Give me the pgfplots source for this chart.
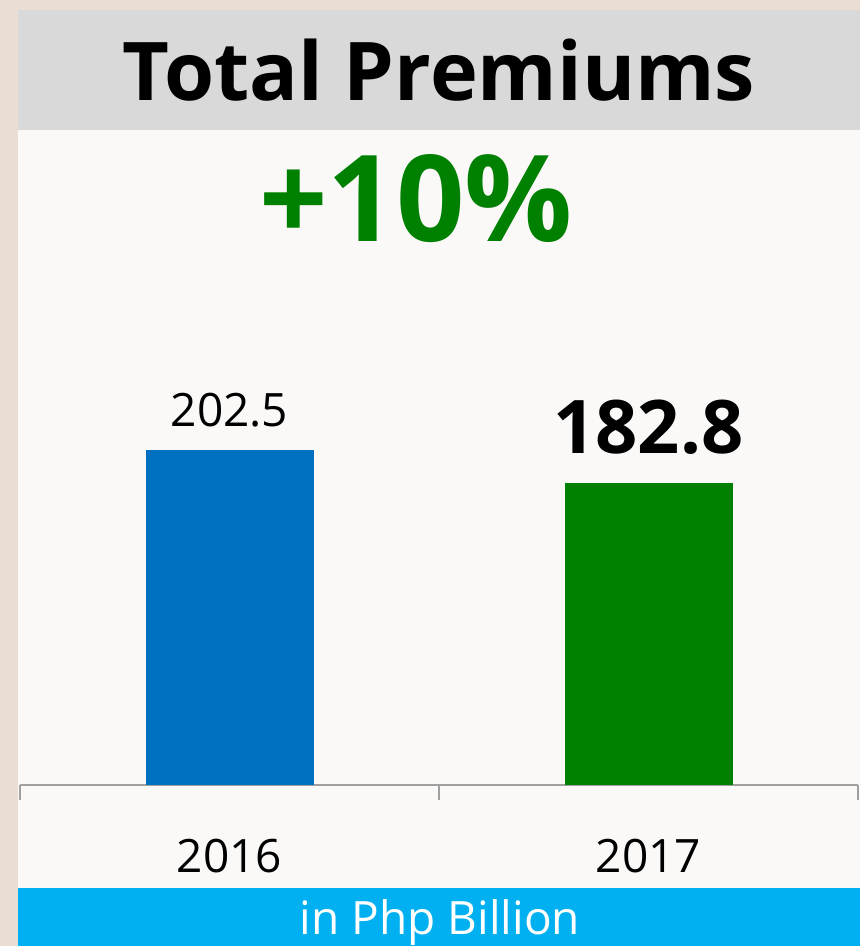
\documentclass[border=0pt]{standalone}
\usepackage{pgfplots}
\pgfplotsset{compat=1.18}
\usepackage{fontspec}
\setmainfont{Open Sans}
\definecolor{bgl}{HTML}{EADDD4}
\definecolor{panel}{HTML}{FAF9F8}
\definecolor{hdr}{HTML}{D9D9D9}
\definecolor{barblue}{HTML}{0070C0}
\definecolor{bargreen}{HTML}{008000}
\definecolor{band}{HTML}{00B0F0}
\definecolor{axgray}{HTML}{A0A0A0}
\begin{document}
\begin{tikzpicture}
\useasboundingbox (0pt,0pt) rectangle (860pt,946pt);
\fill[bgl] (0pt,0pt) rectangle (860pt,946pt);
\fill[panel] (18pt,0pt) rectangle (860pt,936pt);
\fill[hdr] (18pt,816pt) rectangle (860pt,936pt);
\fill[band] (18pt,0pt) rectangle (860pt,58pt);
\node[anchor=base, inner sep=0pt, font=\fontsize{81}{86}\selectfont\bfseries] at (439pt,845pt) {Total Premiums};
\node[anchor=base, inner sep=0pt, text=bargreen, font=\fontsize{120}{124}\selectfont\bfseries] at (416pt,704pt) {+10\%};
\node[anchor=base, inner sep=0pt, text=white, font=\fontsize{46}{50}\selectfont] at (440pt,12pt) {in Php Billion};
\begin{axis}[
  at={(20pt,161pt)}, anchor=south west,
  scale only axis, width=838pt, height=655pt,
  xmin=-0.5, xmax=1.5, ymin=0, ymax=396,
  axis y line=none,
  axis x line*=bottom,
  x axis line style={axgray, line width=1.5pt, -},
  ybar, bar width=168pt,
  xtick={0,1}, xticklabels={2016,2017},
  major x tick style={draw=none},
  xticklabel style={anchor=base, yshift=-83pt, font=\fontsize{46}{50}\selectfont},
  extra x ticks={-0.5,0.5,1.5},
  extra x tick labels={},
  extra x tick style={tick align=outside, major tick length=15pt, major x tick style={draw=axgray, line width=1.5pt}},
  /pgf/number format/assume math mode=true,
  /pgf/number format/fixed, /pgf/number format/precision=1,
  clip=false,
]
\addplot[fill=barblue, draw=none, bar shift=0pt, nodes near coords,
  nodes near coords style={anchor=base, yshift=24pt, font=\fontsize{46}{50}\selectfont, text=black}]
  coordinates {(0,202.5)};
\addplot[fill=bargreen, draw=none, bar shift=0pt, nodes near coords,
  nodes near coords style={anchor=base, yshift=29pt, font=\fontsize{74}{78}\selectfont\bfseries, text=black}]
  coordinates {(1,182.8)};
\end{axis}
\end{tikzpicture}
\end{document}
